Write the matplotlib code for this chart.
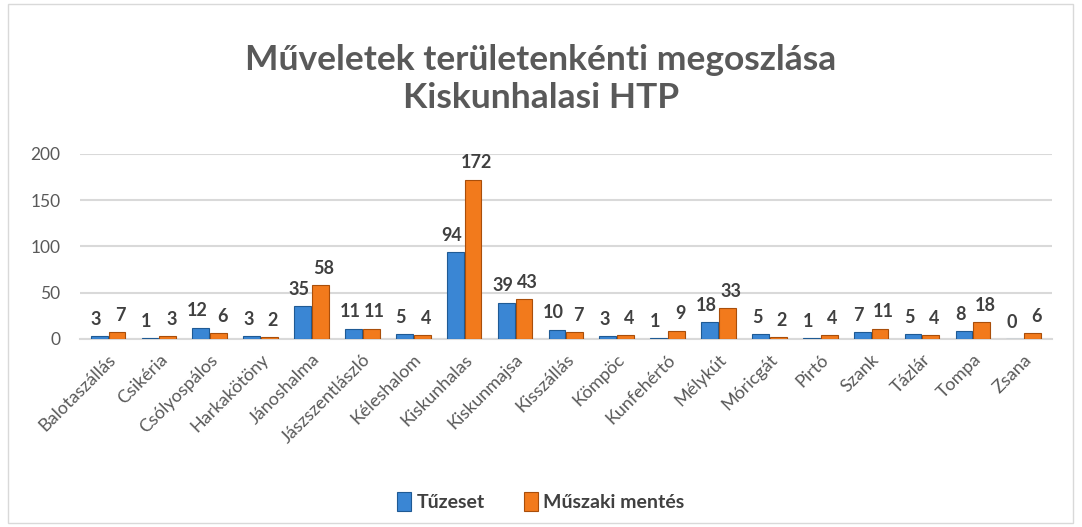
import matplotlib
matplotlib.use('Agg')
import matplotlib.pyplot as plt
import numpy as np

places = ['Balotaszállás', 'Csikéria', 'Csólyospálos', 'Harkakötöny', 'Jánoshalma',
          'Jászszentlászló', 'Kéleshalom', 'Kiskunhalas', 'Kiskunmajsa', 'Kisszállás',
          'Kömpöc', 'Kunfehértó', 'Mélykút', 'Móricgát', 'Pirtó', 'Szank', 'Tázlár',
          'Tompa', 'Zsana']
tuzeset = [3, 1, 12, 3, 35, 11, 5, 94, 39, 10, 3, 1, 18, 5, 1, 7, 5, 8, 0]
muszaki = [7, 3, 6, 2, 58, 11, 4, 172, 43, 7, 4, 9, 33, 2, 4, 11, 4, 18, 6]

plt.rcParams['font.family'] = ['Lato', 'DejaVu Sans']

fig = plt.figure(figsize=(10.82, 5.27), dpi=100)
ax = fig.add_axes([0.074, 0.357, 0.898, 0.351])

x = np.arange(len(places))
w = 0.33
b1 = ax.bar(x - 0.175, tuzeset, w, color='#3A86D4', edgecolor='#1F5A94', linewidth=0.8,
            label='Tűzeset', zorder=3)
b2 = ax.bar(x + 0.175, muszaki, w, color='#F27A1C', edgecolor='#A94E0A', linewidth=0.8,
            label='Műszaki mentés', zorder=3)

# labels nudged a little apart so neighbouring numbers don't collide
for bars, vals, dx in ((b1, tuzeset, -2.5), (b2, muszaki, 2.5)):
    for r, v in zip(bars, vals):
        ax.annotate(str(v), (r.get_x() + r.get_width() / 2, v), xytext=(dx, 6),
                    textcoords='offset points', ha='center', va='bottom',
                    fontsize=13, fontweight='bold', color='#404040')

ax.set_ylim(0, 200)
ax.set_xlim(-0.55, len(places) - 0.45)
ax.set_yticks([0, 50, 100, 150, 200])
ax.grid(axis='y', color='#D9D9D9', linewidth=1.5, zorder=0)
for s in ['top', 'right', 'left']:
    ax.spines[s].set_visible(False)
ax.spines['bottom'].set_color('#D9D9D9')
ax.spines['bottom'].set_linewidth(1.5)
ax.tick_params(axis='both', length=0, colors='#595959', labelsize=12.5)
ax.tick_params(axis='y', pad=14)
ax.tick_params(axis='x', pad=9)
ax.set_xticks(x)
ax.set_xticklabels(places, rotation=45, ha='right', rotation_mode='anchor',
                   fontsize=13, color='#595959')

fig.text(0.5, 0.85, 'Műveletek területenkénti megoszlása\nKiskunhalasi HTP',
         ha='center', va='center', fontsize=25.5, fontweight='bold', color='#595959',
         linespacing=1.25)

fig.legend(handles=[b1, b2], loc='center', bbox_to_anchor=(0.5, 0.048), ncol=2,
           frameon=False, handlelength=0.7, handleheight=1.1,
           handletextpad=0.3, columnspacing=2.0,
           prop={'weight': 'bold', 'size': 14})
for t in fig.legends[0].get_texts():
    t.set_color('#404040')

fig.patches.append(plt.Rectangle((0.007, 0.008), 0.985, 0.985, transform=fig.transFigure,
                                 fill=False, edgecolor='#D9D9D9', linewidth=1))

plt.savefig('out.png')
